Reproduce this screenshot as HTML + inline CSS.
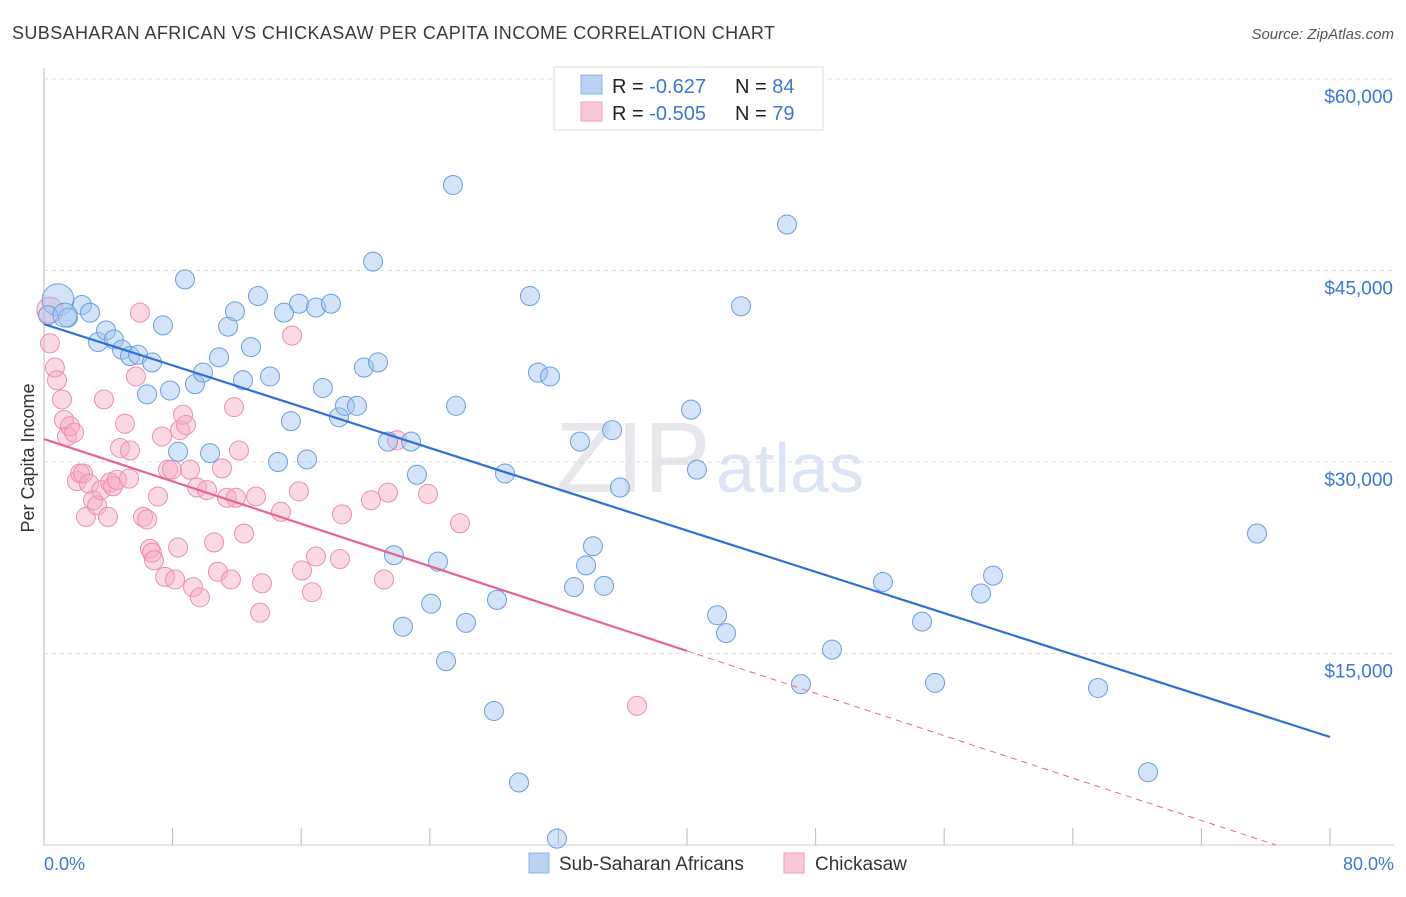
<!DOCTYPE html>
<html><head><meta charset="utf-8"><style>
body{margin:0;background:#fff;font-family:"Liberation Sans",sans-serif;}
svg text{font-family:"Liberation Sans",sans-serif;}
</style></head><body>
<svg id="chart" width="1406" height="892" viewBox="0 0 1406 892">
<text x="12" y="39" font-size="18" fill="#3a3a3a" textLength="763" lengthAdjust="spacing">SUBSAHARAN AFRICAN VS CHICKASAW PER CAPITA INCOME CORRELATION CHART</text>
<text x="1394" y="39" font-size="15" fill="#555" font-style="italic" text-anchor="end">Source: ZipAtlas.com</text>
<text x="34" y="458" font-size="18" fill="#333" text-anchor="middle" transform="rotate(-90 34 458)">Per Capita Income</text>
<text x="555" y="492" font-size="100" fill="#e8e8ec" font-family="Liberation Serif">ZIP</text>
<text x="716" y="492" font-size="70" fill="#dbe5f4">atlas</text>
<g id="grid"></g><g id="pts"></g><g id="lines"></g>
<g>
<rect x="554" y="67" width="269" height="63" fill="#fff" stroke="#ddd"/>
<rect x="581" y="75" width="21" height="19" fill="#b9d2f3" stroke="#8fb4e6"/>
<rect x="581" y="102" width="21" height="19" fill="#f9c7d6" stroke="#ee9fb7"/>
<text x="612" y="93" font-size="20" fill="#222">R = <tspan fill="#3a78d6">-0.627</tspan></text>
<text x="735" y="93" font-size="20" fill="#222">N = <tspan fill="#3a78d6">84</tspan></text>
<text x="612" y="120" font-size="20" fill="#222">R = <tspan fill="#3a78d6">-0.505</tspan></text>
<text x="735" y="120" font-size="20" fill="#222">N = <tspan fill="#3a78d6">79</tspan></text>
</g>
<text x="44" y="870" font-size="18" fill="#3a78d6">0.0%</text>
<text x="1394" y="870" font-size="18" fill="#3a78d6" text-anchor="end">80.0%</text>
<g>
<rect x="529" y="853" width="20" height="20" fill="#b9d2f3" stroke="#8fb4e6"/>
<text x="559" y="870" font-size="19" fill="#333">Sub-Saharan Africans</text>
<rect x="784" y="853" width="20" height="20" fill="#f9c7d6" stroke="#ee9fb7"/>
<text x="815" y="870" font-size="19" fill="#333">Chickasaw</text>
</g>
</svg>
<script>
const yTicks=[15000,30000,45000,60000];
const yTickLabels=["$15,000","$30,000","$45,000","$60,000"];
const xTicks=[0,8,16,24,32,40,48,56,64,72,80];
const blueX=[0.87,1.49,2.36,2.86,3.36,3.86,4.35,4.85,5.35,5.85,6.41,6.72,7.40,7.84,8.34,8.77,9.39,9.89,10.33,10.89,11.45,11.88,12.38,12.88,13.31,14.06,14.56,14.93,15.36,15.86,16.36,16.92,17.35,17.85,18.35,18.72,19.47,19.90,20.47,20.78,21.40,21.77,22.33,22.83,23.20,24.08,24.51,25.01,25.44,25.63,26.25,27.99,28.18,28.68,29.55,30.23,30.73,31.48,31.91,32.97,33.34,33.72,34.15,34.84,35.34,35.83,40.25,40.62,41.87,42.43,43.36,46.22,47.09,49.02,52.19,54.62,55.43,58.29,59.04,65.57,68.68,75.46,0.25,1.3];
const blueY=[42.7,41.3,42.3,41.7,39.4,40.3,39.6,38.8,38.3,38.4,35.3,37.8,40.7,35.6,30.8,44.3,36.1,37.0,30.7,38.2,40.6,41.8,36.4,39.0,43.0,36.7,30.0,41.7,33.2,42.4,30.2,42.1,35.8,42.4,33.5,34.4,34.4,37.4,45.7,37.8,31.6,22.7,17.1,31.6,29.0,18.9,22.2,14.4,51.7,34.4,17.4,10.5,19.2,29.1,4.9,43.0,37.0,36.7,0.5,20.2,31.6,21.9,23.4,20.3,32.5,28.0,34.1,29.4,18.0,16.6,42.2,48.6,12.6,15.3,20.6,17.5,12.7,19.7,21.1,12.3,5.7,24.4,41.5,41.5];
const pinkX=[0.37,0.37,0.68,0.81,1.12,1.24,1.43,1.62,1.87,2.05,2.24,2.43,2.61,2.80,3.05,3.30,3.55,3.73,3.98,4.11,4.29,4.54,4.73,5.04,5.29,5.35,5.72,5.97,6.16,6.41,6.59,6.72,6.84,7.09,7.34,7.53,7.71,7.96,8.15,8.34,8.46,8.65,8.83,9.08,9.27,9.52,9.70,10.14,10.58,10.82,11.07,11.38,11.63,11.82,11.94,12.13,12.44,13.19,13.44,13.56,14.74,15.43,15.86,16.05,16.67,16.92,18.41,18.54,20.34,21.15,21.40,21.96,23.89,25.88,36.89];
const pinkY=[41.9,39.3,37.4,36.4,34.9,33.3,32.0,32.8,32.3,28.5,29.1,29.1,25.7,28.3,27.0,26.6,27.8,34.9,25.7,28.4,28.1,28.6,31.1,33.0,28.7,30.9,36.7,41.7,25.7,25.5,23.2,22.9,22.3,27.3,32.0,21.0,29.4,29.4,20.8,23.3,32.5,33.7,32.9,29.4,20.2,28.0,19.4,27.8,23.7,21.4,29.5,27.2,20.8,34.3,27.2,30.9,24.4,27.3,18.2,20.5,26.1,39.9,27.7,21.5,19.8,22.6,22.4,25.9,27.0,20.8,27.6,31.7,27.5,25.2,10.9];
const blueLine=[40.8,8.46];
const pinkLine=[31.8,-1.4];
const pinkSolidEnd=40;
const NS="http://www.w3.org/2000/svg";
const X=v=>44+v/80*1286;
const Y=v=>845-v/15*191.5;
function mk(t,a,p){const e=document.createElementNS(NS,t);for(const k in a)e.setAttribute(k,a[k]);p.appendChild(e);return e;}
const grid=document.getElementById('grid');
const ax=mk('line',{x1:44,y1:68,x2:44,y2:845,stroke:'#bbb'},grid);


const bx=mk('line',{x1:44,y1:845,x2:1394,y2:845,stroke:'#ccc'},grid);


yTicks.forEach((t,i)=>{
 const g=mk('line',{x1:44,y1:Y(t/1000),x2:1394,y2:Y(t/1000),stroke:'#ddd','stroke-dasharray':'4,4'},grid);
 
 
 const l=mk('text',{x:1393,y:Y(t/1000)+24,'font-size':19,fill:'#3a78d6','text-anchor':'end'},grid);
 l.textContent=yTickLabels[i];
 
 
});
xTicks.forEach(t=>{
 const k=mk('line',{x1:X(t),y1:828,x2:X(t),y2:845,stroke:'#bbb'},grid);
 
 
});
const pts=document.getElementById('pts');
pinkX.forEach((x,i)=>{
 const c=mk('circle',{cx:X(x),cy:Y(pinkY[i]),r:i===0?13:9.5,fill:'rgba(246,170,195,0.45)',stroke:'#ec8fae','stroke-width':1},pts);
 
 
});
blueX.forEach((x,i)=>{
 const c=mk('circle',{cx:X(x),cy:Y(blueY[i]),r:i===0?16:(i===blueX.length-1?12:9.5),fill:'rgba(160,195,240,0.45)',stroke:'#6a9fe0','stroke-width':1},pts);
 
 
});
const lines=document.getElementById('lines');
const bl=mk('line',{x1:X(0),y1:Y(blueLine[0]),x2:X(80),y2:Y(blueLine[1]),stroke:'#2f6fd6','stroke-width':2.2},lines);


const pAt=x=>pinkLine[0]+(pinkLine[1]-pinkLine[0])*x/80;
const pl=mk('line',{x1:X(0),y1:Y(pinkLine[0]),x2:X(pinkSolidEnd),y2:Y(pAt(pinkSolidEnd)),stroke:'#e8648f','stroke-width':2.2},lines);


const xz=pinkLine[0]/(pinkLine[0]-pinkLine[1])*80;
const pd=mk('line',{x1:X(pinkSolidEnd),y1:Y(pAt(pinkSolidEnd)),x2:X(xz),y2:Y(0),stroke:'#e8648f','stroke-width':1,'stroke-dasharray':'6,5'},lines);


</script>
</body></html>
